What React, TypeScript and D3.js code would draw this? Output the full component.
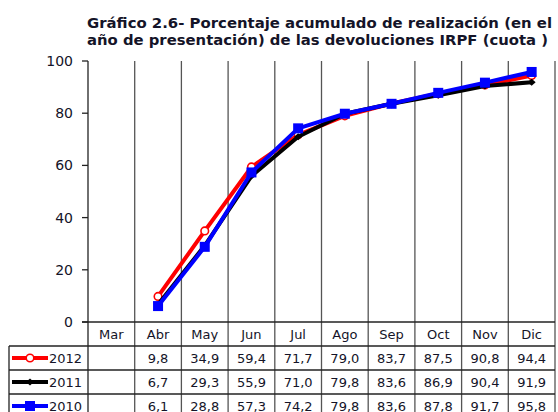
import React from 'react';
import * as d3 from 'd3';

const months = ['Mar', 'Abr', 'May', 'Jun', 'Jul', 'Ago', 'Sep', 'Oct', 'Nov', 'Dic'];
const s2012: (number | null)[] = [null, 9.8, 34.9, 59.4, 71.7, 79.0, 83.7, 87.5, 90.8, 94.4];
const s2011: (number | null)[] = [null, 6.7, 29.3, 55.9, 71.0, 79.8, 83.6, 86.9, 90.4, 91.9];
const s2010: (number | null)[] = [null, 6.1, 28.8, 57.3, 74.2, 79.8, 83.6, 87.8, 91.7, 95.8];
const yTicks = [0, 20, 40, 60, 80, 100];

const series = [
  { name: '2012', values: s2012, color: '#ff0000', marker: 'circle' },
  { name: '2011', values: s2011, color: '#000000', marker: 'diamond' },
  { name: '2010', values: s2010, color: '#0000ff', marker: 'square' },
];

const W = 558;
const H = 412;
const left = 88;
const right = 555;
const top = 61;
const bottom = 322;
const rowH = 24;
const tableLeft = 9;
const font = '"DejaVu Sans", Verdana, sans-serif';
const textColor = '#141428';

const fmt = (v: number) => v.toFixed(1).replace('.', ',');

function Marker({ type, x, y, color }: { type: string; x: number; y: number; color: string }) {
  if (type === 'circle')
    return <circle cx={x} cy={y} r={3.8} fill="#fff" stroke={color} strokeWidth={1.6} />;
  if (type === 'square')
    return <rect x={x - 5} y={y - 5} width={10} height={10} fill={color} />;
  return <path d={`M${x - 4},${y} L${x},${y - 3.5} L${x + 4},${y} L${x},${y + 3.5} Z`} fill={color} />;
}

export default function App() {
  const x = d3.scaleBand<string>().domain(months).range([left, right]);
  const y = d3.scaleLinear().domain([0, 100]).range([bottom, top]);
  const cx = (m: string) => (x(m) as number) + x.bandwidth() / 2;

  const line = d3
    .line<number | null>()
    .defined((d) => d != null)
    .x((_, i) => cx(months[i]))
    .y((d) => y(d as number));

  const tableBottom = bottom + rowH * 4;
  const bounds = months.map((m) => x(m) as number).concat([right]);

  return (
    <svg width={W} height={H} style={{ position: 'absolute', left: 0, top: 0 }}>
      <rect width={W} height={H} fill="#fff" />
      <text x={87} y={28} fontFamily={font} fontWeight="bold" fontSize={14.5} fill={textColor}
        textLength={465} lengthAdjust="spacingAndGlyphs">
        Gráfico 2.6- Porcentaje acumulado de realización (en el
      </text>
      <text x={87} y={45} fontFamily={font} fontWeight="bold" fontSize={14.5} fill={textColor}
        textLength={461} lengthAdjust="spacingAndGlyphs">
        año de presentación) de las devoluciones IRPF (cuota )
      </text>

      {/* vertical grid / table column lines */}
      {bounds.map((bx, i) => (
        <line key={i} x1={bx} x2={bx} y1={top} y2={tableBottom} stroke={i === 0 ? '#222' : '#555'} strokeWidth={1.3} />
      ))}

      {/* y axis ticks */}
      {yTicks.map((t) => (
        <g key={t}>
          <line x1={left - 6} x2={left} y1={y(t)} y2={y(t)} stroke="#222" strokeWidth={1.3} />
          <text x={left - 15} y={y(t) + 5} textAnchor="end" fontFamily={font} fontSize={14} fill={textColor}>
            {t}
          </text>
        </g>
      ))}

      {/* table horizontal lines */}
      <line x1={left - 6} x2={right} y1={bottom} y2={bottom} stroke="#222" strokeWidth={1.3} />
      {[1, 2, 3].map((r) => (
        <line key={r} x1={tableLeft} x2={right} y1={bottom + rowH * r} y2={bottom + rowH * r} stroke="#222" strokeWidth={1.3} />
      ))}
      <line x1={tableLeft} x2={tableLeft} y1={bottom + rowH} y2={tableBottom} stroke="#222" strokeWidth={1.3} />

      {/* header */}
      {months.map((m) => (
        <text key={m} x={cx(m)} y={bottom + 17} textAnchor="middle" fontFamily={font} fontSize={13} fill={textColor}>
          {m}
        </text>
      ))}

      {/* rows */}
      {series.map((s, r) => {
        const ry = bottom + rowH * (r + 1);
        return (
          <g key={s.name}>
            <line x1={12} x2={48} y1={ry + 12} y2={ry + 12} stroke={s.color} strokeWidth={4} />
            <Marker type={s.marker} x={30} y={ry + 12} color={s.color} />
            <text x={49} y={ry + 17} fontFamily={font} fontSize={13} fill={textColor}>
              {s.name}
            </text>
            {s.values.map((v, i) =>
              v == null ? null : (
                <text key={i} x={cx(months[i])} y={ry + 17} textAnchor="middle" fontFamily={font} fontSize={13} fill={textColor}>
                  {fmt(v)}
                </text>
              )
            )}
          </g>
        );
      })}

      {/* lines */}
      {series.map((s) => (
        <g key={s.name}>
          <path d={line(s.values) || ''} fill="none" stroke={s.color} strokeWidth={4} strokeLinejoin="round" />
          {s.values.map((v, i) =>
            v == null ? null : <Marker key={i} type={s.marker} x={cx(months[i])} y={y(v)} color={s.color} />
          )}
        </g>
      ))}
    </svg>
  );
}
